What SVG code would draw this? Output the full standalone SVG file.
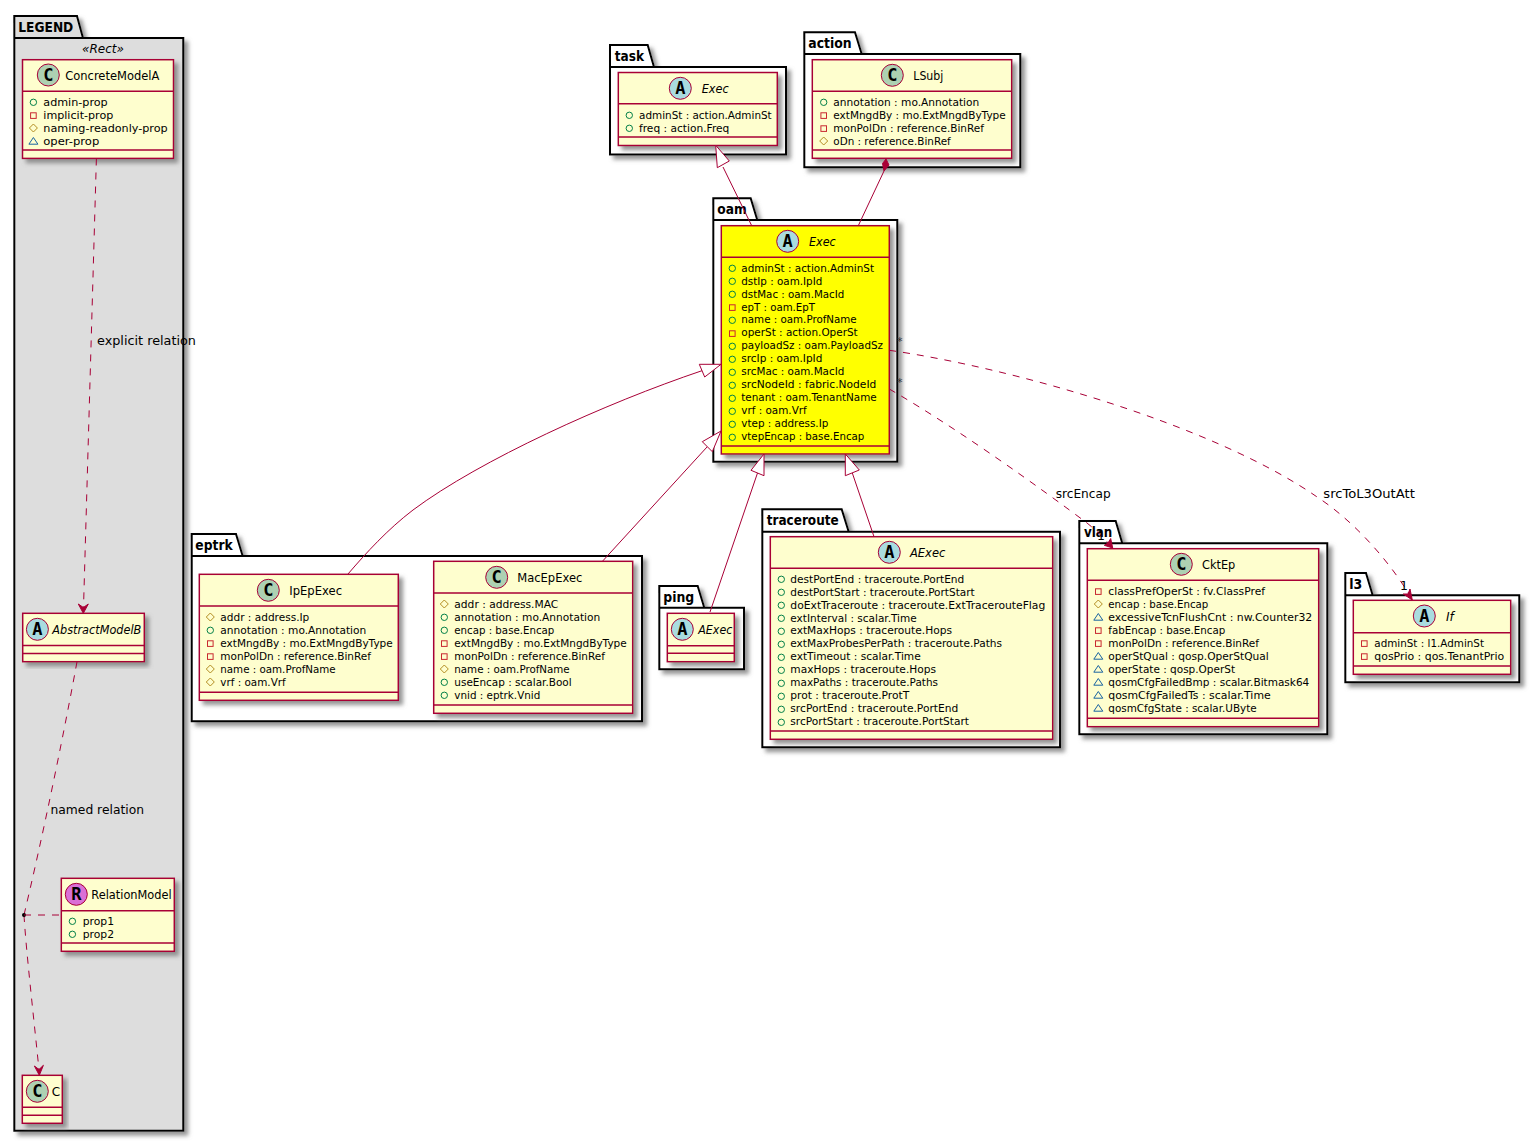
<svg xmlns="http://www.w3.org/2000/svg" width="1540" height="1142" viewBox="0 0 1540 1142">
<style>
text{font-family:"DejaVu Sans","Liberation Sans",sans-serif;fill:#000}
.r{font-size:11px}
.t{font-size:12px}
.i{font-size:12px;font-style:italic}
.p{font-size:14px;font-weight:bold}
.l{font-size:12.5px}
.n{font-size:11px;fill:#333}
.m{font-family:"DejaVu Sans Mono","Liberation Mono",monospace;font-size:17px;font-weight:bold;text-anchor:middle}
.pk{fill:#fff;stroke:#000;stroke-width:2;filter:url(#sh)}
.lg{fill:#ddd}
.c{fill:#FEFECE;stroke:#A80036;stroke-width:1.5;filter:url(#sh)}
.y{fill:#FF0}
.d{fill:none;stroke:#A80036;stroke-width:1.5}
.ca{fill:#ADD1B2;stroke:#A80036;stroke-width:1}
.aa{fill:#A9DCDF;stroke:#A80036;stroke-width:1}
.ra{fill:#DA70D6;stroke:#A80036;stroke-width:1}
.e{fill:none;stroke:#A80036;stroke-width:1}
.da{stroke-dasharray:7,7}
.g{fill:#fff;stroke:#A80036;stroke-width:1}
.h{fill:#A80036;stroke:#A80036;stroke-width:1}
</style>
<defs>
<filter id="sh" x="-10%" y="-10%" width="125%" height="125%"><feGaussianBlur in="SourceAlpha" stdDeviation="2"/><feOffset dx="4" dy="4"/><feColorMatrix type="matrix" values="0 0 0 0 0.2 0 0 0 0 0.2 0 0 0 0 0.2 0 0 0 0.8 0"/><feMerge><feMergeNode/><feMergeNode in="SourceGraphic"/></feMerge></filter>
<circle id="o" cy="-3.7" r="3.2" fill="none" stroke="#038048"/>
<rect id="s" x="-2.8" y="-6.2" width="5.6" height="5.6" fill="none" stroke="#C82930"/>
<polygon id="q" points="0,-8 4,-4 0,0 -4,-4" fill="none" stroke="#B38D22"/>
<polygon id="v" points="0,-7.5 4.5,-0.8 -4.5,-0.8" fill="none" stroke="#1963A0"/>
</defs>

<g id="pkg-LEGEND">
<path class="pk lg" d="M14.3,38H183.3V1130.7H14.3ZM14.3,38V16H77L83,38"/>
<text class="p" x="18.3" y="32" textLength="55" lengthAdjust="spacingAndGlyphs">LEGEND</text>
<text class="i" x="82" y="53" textLength="42" lengthAdjust="spacingAndGlyphs">«Rect»</text>
<g id="ConcreteModelA">
<rect class="c" x="22.5" y="59.7" width="151" height="98.7"/><path class="d" d="M22.5,91.3H173.5M22.5,150H173.5"/>
<circle class="ca" cx="48.3" cy="75" r="11"/><text class="m" x="48.3" y="81">C</text>
<text class="t" x="65.3" y="79.5" textLength="94" lengthAdjust="spacingAndGlyphs">ConcreteModelA</text>
<use href="#o" x="33.4" y="106"/><text class="r" x="43.3" y="106" textLength="64.4" lengthAdjust="spacingAndGlyphs">admin-prop</text>
<use href="#s" x="33.4" y="119"/><text class="r" x="43.3" y="119" textLength="70" lengthAdjust="spacingAndGlyphs">implicit-prop</text>
<use href="#q" x="33.4" y="132"/><text class="r" x="43.3" y="132" textLength="124.4" lengthAdjust="spacingAndGlyphs">naming-readonly-prop</text>
<use href="#v" x="33.4" y="145"/><text class="r" x="43.3" y="145" textLength="56" lengthAdjust="spacingAndGlyphs">oper-prop</text>
</g>
<g id="AbstractModelB">
<rect class="c" x="22.7" y="613.3" width="121.6" height="48.4"/><path class="d" d="M22.7,645.5H144.3M22.7,653.4H144.3"/>
<circle class="aa" cx="37.4" cy="629.3" r="11"/><text class="m" x="37.4" y="635">A</text>
<text class="i" x="52.3" y="634" textLength="89" lengthAdjust="spacingAndGlyphs">AbstractModelB</text>
</g>
<g id="RelationModel">
<rect class="c" x="61.3" y="878.3" width="113" height="73"/><path class="d" d="M61.3,910.7H174.3M61.3,943H174.3"/>
<circle class="ra" cx="76.3" cy="894.3" r="11"/><text class="m" x="76.3" y="900">R</text>
<text class="t" x="91.3" y="899" textLength="80.4" lengthAdjust="spacingAndGlyphs">RelationModel</text>
<use href="#o" x="72.4" y="925"/><text class="r" x="82.7" y="925" textLength="31.3" lengthAdjust="spacingAndGlyphs">prop1</text>
<use href="#o" x="72.4" y="938"/><text class="r" x="82.7" y="938" textLength="31.3" lengthAdjust="spacingAndGlyphs">prop2</text>
</g>
<g id="C">
<rect class="c" x="22.3" y="1075.3" width="40" height="48"/><path class="d" d="M22.3,1107.3H62.3M22.3,1115.3H62.3"/>
<circle class="ca" cx="37.3" cy="1091.3" r="11"/><text class="m" x="37.3" y="1097">C</text>
<text class="t" x="51.7" y="1096">C</text>
</g>
</g>

<g id="pkg-task">
<path class="pk" d="M610,67H786V154.5H610ZM610,67V45H647.7L654,67"/>
<text class="p" x="614.7" y="61" textLength="29.3" lengthAdjust="spacingAndGlyphs">task</text>
<g id="task-Exec">
<rect class="c" x="618.3" y="72.5" width="159" height="73"/><path class="d" d="M618.3,103.7H777.3M618.3,137H777.3"/>
<circle class="aa" cx="680.3" cy="88.3" r="11"/><text class="m" x="680.3" y="94">A</text>
<text class="i" x="701.7" y="93" textLength="27" lengthAdjust="spacingAndGlyphs">Exec</text>
<use href="#o" x="629.3" y="119"/><text class="r" x="639" y="119" textLength="132.7" lengthAdjust="spacingAndGlyphs">adminSt : action.AdminSt</text>
<use href="#o" x="629.3" y="132"/><text class="r" x="639" y="132" textLength="90.3" lengthAdjust="spacingAndGlyphs">freq : action.Freq</text>
</g>
</g>

<g id="pkg-action">
<path class="pk" d="M804.3,54H1020.3V167.3H804.3ZM804.3,54V32.3H855L861.7,54"/>
<text class="p" x="808.3" y="48.3" textLength="43.4" lengthAdjust="spacingAndGlyphs">action</text>
<g id="action-LSubj">
<rect class="c" x="812.3" y="59.7" width="199.4" height="98.6"/><path class="d" d="M812.3,91.3H1011.7M812.3,150H1011.7"/>
<circle class="ca" cx="892.3" cy="75.3" r="11"/><text class="m" x="892.3" y="81">C</text>
<text class="t" x="913.3" y="80" textLength="30" lengthAdjust="spacingAndGlyphs">LSubj</text>
<use href="#o" x="823.7" y="106"/><text class="r" x="833.3" y="106" textLength="146" lengthAdjust="spacingAndGlyphs">annotation : mo.Annotation</text>
<use href="#s" x="823.7" y="119"/><text class="r" x="833.3" y="119" textLength="172.4" lengthAdjust="spacingAndGlyphs">extMngdBy : mo.ExtMngdByType</text>
<use href="#s" x="823.7" y="132"/><text class="r" x="833.3" y="132" textLength="150.7" lengthAdjust="spacingAndGlyphs">monPolDn : reference.BinRef</text>
<use href="#q" x="823.7" y="145"/><text class="r" x="833.3" y="145" textLength="117.4" lengthAdjust="spacingAndGlyphs">oDn : reference.BinRef</text>
</g>
</g>

<g id="pkg-oam">
<path class="pk" d="M713.3,220H897.3V461.7H713.3ZM713.3,220V198.3H750.7L757.3,220"/>
<text class="p" x="717.3" y="214" textLength="29.4" lengthAdjust="spacingAndGlyphs">oam</text>
<g id="oam-Exec">
<rect class="c y" x="721.3" y="225.7" width="168" height="228.3"/><path class="d" d="M721.3,257.3H889.3M721.3,446H889.3"/>
<circle class="aa" cx="787.7" cy="241.3" r="11"/><text class="m" x="787.7" y="247">A</text>
<text class="i" x="809" y="246" textLength="26.7" lengthAdjust="spacingAndGlyphs">Exec</text>
<use href="#o" x="732.3" y="272"/><text class="r" x="741.3" y="272" textLength="132.7" lengthAdjust="spacingAndGlyphs">adminSt : action.AdminSt</text>
<use href="#o" x="732.3" y="285"/><text class="r" x="741.3" y="285" textLength="81" lengthAdjust="spacingAndGlyphs">dstIp : oam.IpId</text>
<use href="#o" x="732.3" y="298"/><text class="r" x="741.3" y="298" textLength="103" lengthAdjust="spacingAndGlyphs">dstMac : oam.MacId</text>
<use href="#s" x="732.3" y="311"/><text class="r" x="741.3" y="311" textLength="73.7" lengthAdjust="spacingAndGlyphs">epT : oam.EpT</text>
<use href="#o" x="732.3" y="324"/><text class="r" x="741.3" y="323" textLength="115.4" lengthAdjust="spacingAndGlyphs">name : oam.ProfName</text>
<use href="#s" x="732.3" y="337"/><text class="r" x="741.3" y="336" textLength="116.4" lengthAdjust="spacingAndGlyphs">operSt : action.OperSt</text>
<use href="#o" x="732.3" y="350"/><text class="r" x="741.3" y="349" textLength="141.7" lengthAdjust="spacingAndGlyphs">payloadSz : oam.PayloadSz</text>
<use href="#o" x="732.3" y="363"/><text class="r" x="741.3" y="362" textLength="81" lengthAdjust="spacingAndGlyphs">srcIp : oam.IpId</text>
<use href="#o" x="732.3" y="376"/><text class="r" x="741.3" y="375" textLength="103" lengthAdjust="spacingAndGlyphs">srcMac : oam.MacId</text>
<use href="#o" x="732.3" y="389"/><text class="r" x="741.3" y="388" textLength="135" lengthAdjust="spacingAndGlyphs">srcNodeId : fabric.NodeId</text>
<use href="#o" x="732.3" y="402"/><text class="r" x="741.3" y="401" textLength="135.4" lengthAdjust="spacingAndGlyphs">tenant : oam.TenantName</text>
<use href="#o" x="732.3" y="415"/><text class="r" x="741.3" y="414" textLength="65.4" lengthAdjust="spacingAndGlyphs">vrf : oam.Vrf</text>
<use href="#o" x="732.3" y="428"/><text class="r" x="741.3" y="427" textLength="87" lengthAdjust="spacingAndGlyphs">vtep : address.Ip</text>
<use href="#o" x="732.3" y="441"/><text class="r" x="741.3" y="440" textLength="123" lengthAdjust="spacingAndGlyphs">vtepEncap : base.Encap</text>
</g>
</g>

<g id="pkg-eptrk">
<path class="pk" d="M191.7,556H642V721.3H191.7ZM191.7,556V534H236L242.7,556"/>
<text class="p" x="195.3" y="550" textLength="37.4" lengthAdjust="spacingAndGlyphs">eptrk</text>
<g id="eptrk-IpEpExec">
<rect class="c" x="199.3" y="574.3" width="199" height="126"/><path class="d" d="M199.3,606H398.3M199.3,692.3H398.3"/>
<circle class="ca" cx="268.3" cy="590.3" r="11"/><text class="m" x="268.3" y="596">C</text>
<text class="t" x="289.3" y="595" textLength="52.7" lengthAdjust="spacingAndGlyphs">IpEpExec</text>
<use href="#q" x="210.3" y="621"/><text class="r" x="220.3" y="621" textLength="89" lengthAdjust="spacingAndGlyphs">addr : address.Ip</text>
<use href="#o" x="210.3" y="634"/><text class="r" x="220.3" y="634" textLength="146" lengthAdjust="spacingAndGlyphs">annotation : mo.Annotation</text>
<use href="#s" x="210.3" y="647"/><text class="r" x="220.3" y="647" textLength="172.4" lengthAdjust="spacingAndGlyphs">extMngdBy : mo.ExtMngdByType</text>
<use href="#s" x="210.3" y="660"/><text class="r" x="220.3" y="660" textLength="150.7" lengthAdjust="spacingAndGlyphs">monPolDn : reference.BinRef</text>
<use href="#q" x="210.3" y="673"/><text class="r" x="220.3" y="673" textLength="115.4" lengthAdjust="spacingAndGlyphs">name : oam.ProfName</text>
<use href="#q" x="210.3" y="686"/><text class="r" x="220.3" y="686" textLength="65.4" lengthAdjust="spacingAndGlyphs">vrf : oam.Vrf</text>
</g>
<g id="eptrk-MacEpExec">
<rect class="c" x="433.7" y="561.3" width="199" height="152"/><path class="d" d="M433.7,593H632.7M433.7,705H632.7"/>
<circle class="ca" cx="496.7" cy="577.3" r="11"/><text class="m" x="496.7" y="583">C</text>
<text class="t" x="517.3" y="582" textLength="65" lengthAdjust="spacingAndGlyphs">MacEpExec</text>
<use href="#q" x="444.3" y="608"/><text class="r" x="454.3" y="608" textLength="104" lengthAdjust="spacingAndGlyphs">addr : address.MAC</text>
<use href="#o" x="444.3" y="621"/><text class="r" x="454.3" y="621" textLength="146" lengthAdjust="spacingAndGlyphs">annotation : mo.Annotation</text>
<use href="#o" x="444.3" y="634"/><text class="r" x="454.3" y="634" textLength="100" lengthAdjust="spacingAndGlyphs">encap : base.Encap</text>
<use href="#s" x="444.3" y="647"/><text class="r" x="454.3" y="647" textLength="172.4" lengthAdjust="spacingAndGlyphs">extMngdBy : mo.ExtMngdByType</text>
<use href="#s" x="444.3" y="660"/><text class="r" x="454.3" y="660" textLength="150.7" lengthAdjust="spacingAndGlyphs">monPolDn : reference.BinRef</text>
<use href="#q" x="444.3" y="673"/><text class="r" x="454.3" y="673" textLength="115.4" lengthAdjust="spacingAndGlyphs">name : oam.ProfName</text>
<use href="#o" x="444.3" y="686"/><text class="r" x="454.3" y="686" textLength="117.4" lengthAdjust="spacingAndGlyphs">useEncap : scalar.Bool</text>
<use href="#o" x="444.3" y="699"/><text class="r" x="454.3" y="699" textLength="86" lengthAdjust="spacingAndGlyphs">vnid : eptrk.Vnid</text>
</g>
</g>

<g id="pkg-ping">
<path class="pk" d="M659.3,607.7H744V669.3H659.3ZM659.3,607.7V586H697.7L704.3,607.7"/>
<text class="p" x="663.3" y="601.7" textLength="31" lengthAdjust="spacingAndGlyphs">ping</text>
<g id="ping-AExec">
<rect class="c" x="667.3" y="613.3" width="67" height="48.4"/><path class="d" d="M667.3,645.7H734.3M667.3,653.3H734.3"/>
<circle class="aa" cx="682.3" cy="629.3" r="11"/><text class="m" x="682.3" y="635">A</text>
<text class="i" x="698.3" y="634" textLength="34" lengthAdjust="spacingAndGlyphs">AExec</text>
</g>
</g>

<g id="pkg-traceroute">
<path class="pk" d="M762.3,531.7H1060V747.3H762.3ZM762.3,531.7V509.3H841.7L848.7,531.7"/>
<text class="p" x="766.7" y="525" textLength="72" lengthAdjust="spacingAndGlyphs">traceroute</text>
<g id="traceroute-AExec">
<rect class="c" x="770.3" y="536.7" width="282.4" height="202.6"/><path class="d" d="M770.3,568.3H1052.7M770.3,731H1052.7"/>
<circle class="aa" cx="889.3" cy="552.3" r="11"/><text class="m" x="889.3" y="558">A</text>
<text class="i" x="910" y="557" textLength="35.3" lengthAdjust="spacingAndGlyphs">AExec</text>
<use href="#o" x="781.3" y="583"/><text class="r" x="790.3" y="583" textLength="174" lengthAdjust="spacingAndGlyphs">destPortEnd : traceroute.PortEnd</text>
<use href="#o" x="781.3" y="596"/><text class="r" x="790.3" y="596" textLength="184.4" lengthAdjust="spacingAndGlyphs">destPortStart : traceroute.PortStart</text>
<use href="#o" x="781.3" y="609"/><text class="r" x="790.3" y="609" textLength="255" lengthAdjust="spacingAndGlyphs">doExtTraceroute : traceroute.ExtTracerouteFlag</text>
<use href="#o" x="781.3" y="622"/><text class="r" x="790.3" y="622" textLength="126.4" lengthAdjust="spacingAndGlyphs">extInterval : scalar.Time</text>
<use href="#o" x="781.3" y="635"/><text class="r" x="790.3" y="634" textLength="161.7" lengthAdjust="spacingAndGlyphs">extMaxHops : traceroute.Hops</text>
<use href="#o" x="781.3" y="648"/><text class="r" x="790.3" y="647" textLength="211.7" lengthAdjust="spacingAndGlyphs">extMaxProbesPerPath : traceroute.Paths</text>
<use href="#o" x="781.3" y="661"/><text class="r" x="790.3" y="660" textLength="130.4" lengthAdjust="spacingAndGlyphs">extTimeout : scalar.Time</text>
<use href="#o" x="781.3" y="674"/><text class="r" x="790.3" y="673" textLength="145.7" lengthAdjust="spacingAndGlyphs">maxHops : traceroute.Hops</text>
<use href="#o" x="781.3" y="687"/><text class="r" x="790.3" y="686" textLength="147.7" lengthAdjust="spacingAndGlyphs">maxPaths : traceroute.Paths</text>
<use href="#o" x="781.3" y="700"/><text class="r" x="790.3" y="699" textLength="119" lengthAdjust="spacingAndGlyphs">prot : traceroute.ProtT</text>
<use href="#o" x="781.3" y="713"/><text class="r" x="790.3" y="712" textLength="168" lengthAdjust="spacingAndGlyphs">srcPortEnd : traceroute.PortEnd</text>
<use href="#o" x="781.3" y="726"/><text class="r" x="790.3" y="725" textLength="178.7" lengthAdjust="spacingAndGlyphs">srcPortStart : traceroute.PortStart</text>
</g>
</g>

<g id="pkg-vlan">
<path class="pk" d="M1079.3,543.3H1327.3V734.3H1079.3ZM1079.3,543.3V521H1115.7L1122.3,543.3"/>
<text class="p" x="1084" y="536.7" textLength="28.3" lengthAdjust="spacingAndGlyphs">vlan</text>
<g id="vlan-CktEp">
<rect class="c" x="1087.3" y="548.7" width="231.4" height="178"/><path class="d" d="M1087.3,580.3H1318.7M1087.3,718.3H1318.7"/>
<circle class="ca" cx="1181.3" cy="564.3" r="11"/><text class="m" x="1181.3" y="570">C</text>
<text class="t" x="1202" y="569" textLength="33.3" lengthAdjust="spacingAndGlyphs">CktEp</text>
<use href="#s" x="1098.3" y="595"/><text class="r" x="1108.3" y="595" textLength="156.7" lengthAdjust="spacingAndGlyphs">classPrefOperSt : fv.ClassPref</text>
<use href="#q" x="1098.3" y="608"/><text class="r" x="1108.3" y="608" textLength="100" lengthAdjust="spacingAndGlyphs">encap : base.Encap</text>
<use href="#v" x="1098.3" y="621"/><text class="r" x="1108.3" y="621" textLength="204" lengthAdjust="spacingAndGlyphs">excessiveTcnFlushCnt : nw.Counter32</text>
<use href="#s" x="1098.3" y="634"/><text class="r" x="1108.3" y="634" textLength="117" lengthAdjust="spacingAndGlyphs">fabEncap : base.Encap</text>
<use href="#s" x="1098.3" y="647"/><text class="r" x="1108.3" y="647" textLength="150.7" lengthAdjust="spacingAndGlyphs">monPolDn : reference.BinRef</text>
<use href="#v" x="1098.3" y="660"/><text class="r" x="1108.3" y="660" textLength="160.4" lengthAdjust="spacingAndGlyphs">operStQual : qosp.OperStQual</text>
<use href="#v" x="1098.3" y="673"/><text class="r" x="1108.3" y="673" textLength="126.7" lengthAdjust="spacingAndGlyphs">operState : qosp.OperSt</text>
<use href="#v" x="1098.3" y="686"/><text class="r" x="1108.3" y="686" textLength="201" lengthAdjust="spacingAndGlyphs">qosmCfgFailedBmp : scalar.Bitmask64</text>
<use href="#v" x="1098.3" y="699"/><text class="r" x="1108.3" y="699" textLength="162.4" lengthAdjust="spacingAndGlyphs">qosmCfgFailedTs : scalar.Time</text>
<use href="#v" x="1098.3" y="712"/><text class="r" x="1108.3" y="712" textLength="148.4" lengthAdjust="spacingAndGlyphs">qosmCfgState : scalar.UByte</text>
</g>
</g>

<g id="pkg-l3">
<path class="pk" d="M1345.3,595.3H1519.3V682.3H1345.3ZM1345.3,595.3V573H1366L1372.7,595.3"/>
<text class="p" x="1349.3" y="589" textLength="13" lengthAdjust="spacingAndGlyphs">l3</text>
<g id="l3-If">
<rect class="c" x="1353.3" y="600.3" width="157.4" height="74"/><path class="d" d="M1353.3,632.7H1510.7M1353.3,666H1510.7"/>
<circle class="aa" cx="1424.3" cy="616" r="11"/><text class="m" x="1424.3" y="622">A</text>
<text class="i" x="1446" y="621">If</text>
<use href="#s" x="1364.3" y="647"/><text class="r" x="1374.3" y="647" textLength="109.7" lengthAdjust="spacingAndGlyphs">adminSt : l1.AdminSt</text>
<use href="#s" x="1364.3" y="660"/><text class="r" x="1374.3" y="660" textLength="130" lengthAdjust="spacingAndGlyphs">qosPrio : qos.TenantPrio</text>
</g>
</g>

<g id="connectors">
<path class="e da" d="M96.4,158.5L83.5,608"/>
<polygon class="h" points="83.3,613.3 78.3,604 83.4,607.5 88.3,604"/>
<text class="l" x="97" y="345" textLength="99" lengthAdjust="spacingAndGlyphs">explicit relation</text>
<path class="e da" d="M77,661.7C70,700 50,805 24,915"/>
<text class="l" x="50.5" y="814" textLength="93.5" lengthAdjust="spacingAndGlyphs">named relation</text>
<path class="e da" d="M24,915C26,950 34,1020 39,1070"/>
<polygon class="h" points="39.3,1075.3 34.4,1066 39,1069.5 43.4,1065.3"/>
<circle cx="24" cy="915" r="2" fill="#000"/>
<path class="e da" d="M24,915H61.3"/>

<path class="e" d="M723,167L751.7,225.7"/>
<polygon class="g" points="715.7,145.3 729.3,161 717.3,167.7"/>
<path class="e" d="M884,171L858.3,225.7"/>
<polygon class="h" points="886,159 882.5,163.5 884,171 889,165"/>
<path class="e" d="M702,370.7C606,403 480,460 413,510C388,529 366,553 348,574"/>
<polygon class="g" points="721,364.3 699.3,364.3 704.7,377"/>
<path class="e" d="M707.3,446.7L602.7,561"/>
<polygon class="g" points="721,431 702.3,441.7 712.3,451.7"/>
<path class="e" d="M757.5,473L710,612"/>
<polygon class="g" points="764,454 751,470.3 764,475.7"/>
<path class="e" d="M852.3,473L874,536.7"/>
<polygon class="g" points="845.3,454 859.3,470 845.3,475.7"/>

<path class="e da" d="M889.3,389C960,430 1040,488 1087,523C1097,531 1105,539 1110,545"/>
<polygon class="h" points="1112.7,548 1104.3,545.3 1108,543 1110.7,538.5"/>
<text class="l" x="1055.7" y="498" textLength="55" lengthAdjust="spacingAndGlyphs">srcEncap</text>
<text class="n" x="897" y="386">*</text>
<text class="l" x="1097" y="540">1</text>
<path class="e da" d="M889.3,350.3C1013,368 1213,425 1316.7,496.7C1360,525 1395,570 1410,596"/>
<polygon class="h" points="1412.3,600 1403.3,594 1408,594 1410,589"/>
<text class="l" x="1323.3" y="498" textLength="91.5" lengthAdjust="spacingAndGlyphs">srcToL3OutAtt</text>
<text class="n" x="897" y="345">*</text>
<text class="l" x="1400" y="590">1</text>
</g>
</svg>
